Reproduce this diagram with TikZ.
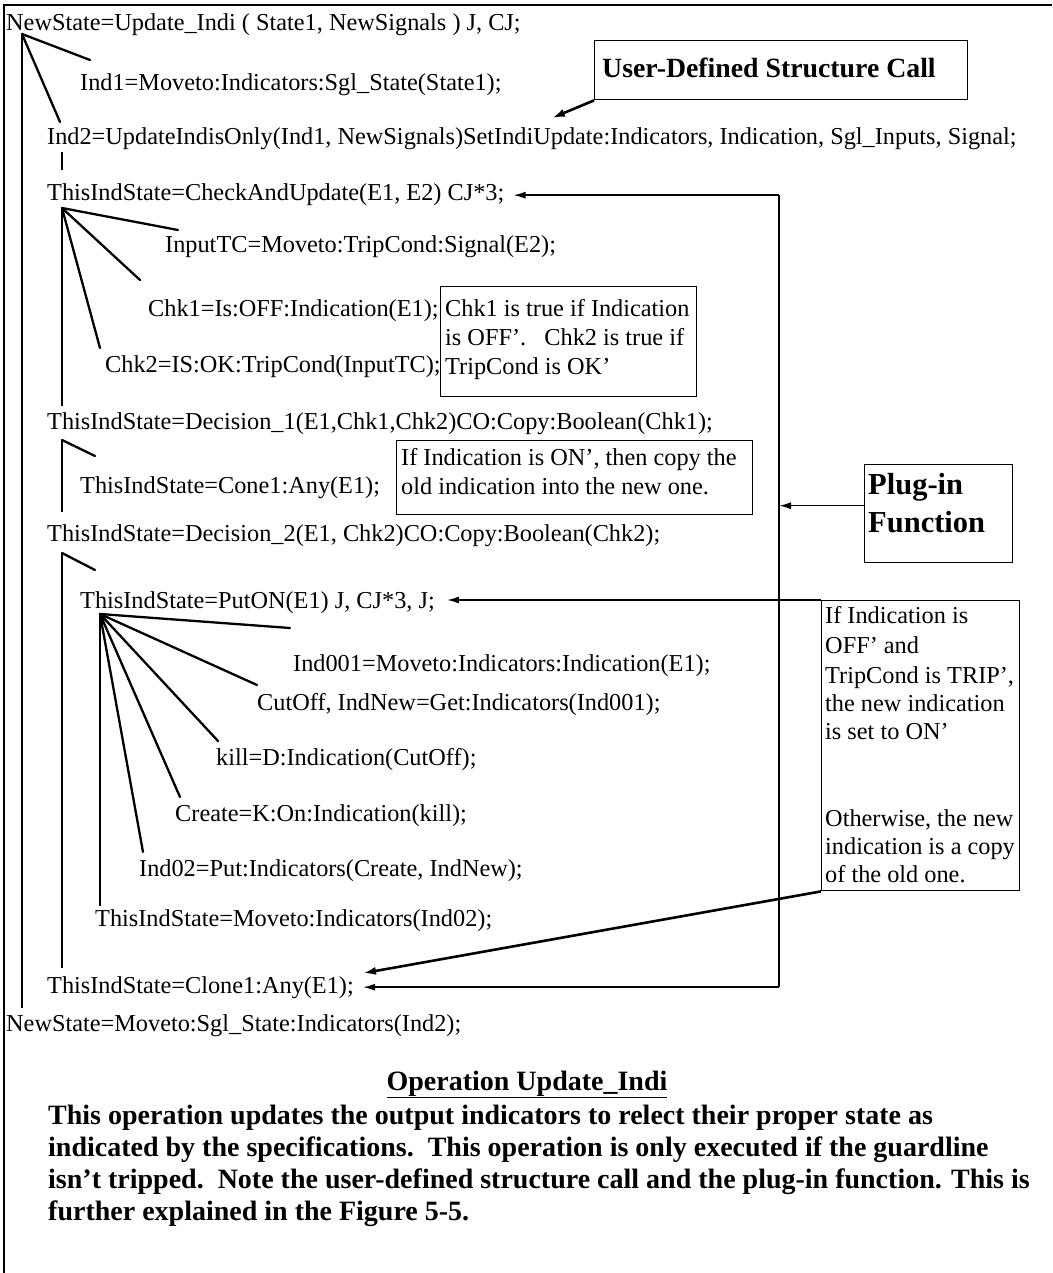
\documentclass[tikz,border=0pt]{standalone}
\usepackage{fontspec}
\setmainfont{Liberation Serif}
\usetikzlibrary{arrows.meta,calc}
\begin{document}
\begin{tikzpicture}[x=1pt,y=-1pt,
  code/.style={anchor=base west,inner sep=0pt,font=\fontsize{24.3}{29}\selectfont},
  tag/.style={anchor=base west,inner sep=0pt,font=\fontsize{27.8}{32}\selectfont\bfseries},
  bigtag/.style={anchor=base west,inner sep=0pt,font=\fontsize{30.5}{34}\selectfont\bfseries},
  para/.style={anchor=base west,inner sep=0pt,font=\fontsize{28}{32}\selectfont\bfseries},
  branch/.style={line width=2.3pt,line cap=round},
  rail/.style={line width=1.2pt},
  frameline/.style={line width=1.4pt},
  notebox/.style={draw,line width=1.4pt,anchor=north west,inner sep=0pt},
  ptr/.style={line width=1.5pt,-{Latex[length=12pt,width=7pt]}},
  thickptr/.style={line width=2.6pt,-{Latex[length=13pt,width=8pt]}}
]
\useasboundingbox (0,0) rectangle (1052,1273);

% outer frame (top and left edges only)
\coordinate (fb) at (4,1273);
\coordinate (ft) at (4,5);
\coordinate (fr) at (1052,5);
\draw[frameline] (fb) -- (ft) -- (fr);

% ---------- code lines ----------
\node[code] (l1)    at (6,31)   {NewState=Update\_Indi ( State1, NewSignals ) J, CJ;};
\node[code] (ind1)  at (80,91)  {Ind1=Moveto:Indicators:Sgl\_State(State1);};
\node[code] (ind2)  at (47,145) {Ind2=UpdateIndisOnly(Ind1, NewSignals)SetIndiUpdate:Indicators, Indication, Sgl\_Inputs, Signal;};
\node[code] (chk)   at (47,201) {ThisIndState=CheckAndUpdate(E1, E2) CJ*3;};
\node[code] (intc)  at (165,252) {InputTC=Moveto:TripCond:Signal(E2);};
\node[code] (chk1)  at (148,316) {Chk1=Is:OFF:Indication(E1);};
\node[code] (chk2)  at (105,372) {Chk2=IS:OK:TripCond(InputTC);};
\node[code] (dec1)  at (47,429) {ThisIndState=Decision\_1(E1,Chk1,Chk2)CO:Copy:Boolean(Chk1);};
\node[code] (cone)  at (80,493) {ThisIndState=Cone1:Any(E1);};
\node[code] (dec2)  at (47,541) {ThisIndState=Decision\_2(E1, Chk2)CO:Copy:Boolean(Chk2);};
\node[code] (puton) at (80,608) {ThisIndState=PutON(E1) J, CJ*3, J;};
\node[code] (i001)  at (293,671) {Ind001=Moveto:Indicators:Indication(E1);};
\node[code] (cut)   at (257,710) {CutOff, IndNew=Get:Indicators(Ind001);};
\node[code] (kill)  at (216,765) {kill=D:Indication(CutOff);};
\node[code] (create) at (175,821) {Create=K:On:Indication(kill);};
\node[code] (i02)   at (139,876) {Ind02=Put:Indicators(Create, IndNew);};
\node[code] (mv)    at (95,926) {ThisIndState=Moveto:Indicators(Ind02);};
\node[code] (clone) at (47,993) {ThisIndState=Clone1:Any(E1);};
\node[code] (ns2)   at (6,1031) {NewState=Moveto:Sgl\_State:Indicators(Ind2);};

% ---------- note boxes ----------
\node[notebox,minimum width=373pt,minimum height=59pt] (ubox) at (594,40) {};
\node[tag] (utxt) at (602,78) {User-Defined Structure Call};

\node[notebox,minimum width=256pt,minimum height=110pt] (b1) at (440,286) {};
\node[code] (b1a) at (445,316) {Chk1 is true if Indication};
\node[code] (b1b) at (445,345) {is OFF’.\ \ \ Chk2 is true if};
\node[code] (b1c) at (445,374) {TripCond is OK’};

\node[notebox,minimum width=356pt,minimum height=74pt] (b2) at (396,440) {};
\node[code] (b2a) at (401,465) {If Indication is ON’, then copy the};
\node[code] (b2b) at (401,494) {old indication into the new one.};

\node[notebox,minimum width=148pt,minimum height=98pt] (plug) at (864,464) {};
\node[bigtag] (pl1) at (868,494) {Plug-in};
\node[bigtag] (pl2) at (868,532) {Function};

\node[notebox,minimum width=198pt,minimum height=290pt] (rbox) at (821,600) {};
\node[code] (r1t) at (825,623) {If Indication is};
\node[code] (r2t) at (825,653) {OFF’ and};
\node[code] (r3t) at (825,683) {TripCond is TRIP’,};
\node[code] (r4t) at (825,711) {the new indication};
\node[code] (r5t) at (825,739) {is set to ON’};
\node[code] (r6t) at (825,826) {Otherwise, the new};
\node[code] (r7t) at (825,854) {indication is a copy};
\node[code] (r8t) at (825,882) {of the old one.};

% ---------- caption ----------
\node[para,anchor=base] (head) at (527,1090) {\underline{Operation Update\_Indi}};
\node[para] (p1) at (48,1124) {This operation updates the output indicators to relect their proper state as};
\node[para] (p2) at (48,1156) {indicated by the specifications.\ \ This operation is only executed if the guardline};
\node[para] (p3) at (48,1188) {isn’t tripped.\ \ Note the user-defined structure call and the plug-in function. This is};
\node[para] (p4) at (48,1220) {further explained in the Figure 5-5.};

% ---------- structure tree ----------
\coordinate (r1)  at (22,34);
\coordinate (r1a) at (90,60);
\coordinate (r1b) at (60,122);
\coordinate (r1z) at (22,1008);
\draw[branch] (r1) -- (r1a);
\draw[branch] (r1) -- (r1b);
\draw[rail] (r1) -- (r1z);

\coordinate (s0) at (62,152);
\coordinate (s1) at (62,170);
\draw[rail,line width=1.8pt] (s0) -- (s1);

\coordinate (c0) at (62,208);
\coordinate (c1) at (178,230);
\coordinate (c2) at (140,280);
\coordinate (c3) at (100,348);
\coordinate (c4) at (62,406);
\draw[branch] (c0) -- (c1);
\draw[branch] (c0) -- (c2);
\draw[branch] (c0) -- (c3);
\draw[rail] (c0) -- (c4);

\coordinate (d1)  at (62,440);
\coordinate (d1a) at (95,456);
\coordinate (d1b) at (62,512);
\draw[branch] (d1) -- (d1a);
\draw[rail] (d1) -- (d1b);

\coordinate (d2)  at (62,553);
\coordinate (d2a) at (95,570);
\coordinate (d2b) at (62,968);
\draw[branch] (d2) -- (d2a);
\draw[rail] (d2) -- (d2b);

\coordinate (p0) at (100,614);
\coordinate (q1) at (290,628);
\coordinate (q2) at (257,685);
\coordinate (q3) at (218,741);
\coordinate (q4) at (180,797);
\coordinate (q5) at (143,852);
\coordinate (q6) at (100,906);
\foreach \q in {q1,q2,q3,q4,q5} \draw[branch] (p0) -- (\q);
\draw[rail] (p0) -- (q6);

% ---------- pointers ----------
\coordinate (vx) at (779,0);
\draw[rail] (vx |- chk.east) -- (vx |- clone.east);
\draw[ptr] (vx |- chk.east) -- ([xshift=9pt]chk.east);
\draw[ptr] (vx |- clone.east) -- ([xshift=9pt]clone.east);
\coordinate (pw) at ([yshift=8pt]plug.west);
\draw[ptr] (pw) -- (vx |- pw);
\coordinate (pt) at ([xshift=12pt]puton.east);
\draw[ptr] (rbox.north west) -- (pt |- rbox.north west);
\draw[thickptr] (rbox.south west) -- ([xshift=9pt,yshift=14pt]clone.east);
\coordinate (ua) at (552,118);
\draw[thickptr] (ubox.south west) -- (ua);
\end{tikzpicture}
\end{document}
